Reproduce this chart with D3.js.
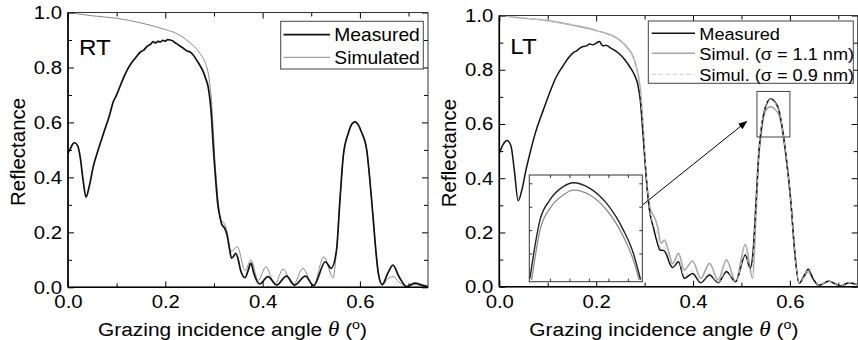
<!DOCTYPE html>
<html lang="en">
<head>
<meta charset="UTF-8">
<title>Reflectance RT / LT</title>
<script src="https://cdn.jsdelivr.net/npm/d3@7"></script>
<style>
  body { margin: 0; background: #fff; }
  svg { display: block; }
</style>
</head>
<body>
<svg width="858" height="340"></svg>
<script>
// ---- data ----
// RT panel, measured
var angleRT = [0.000,0.005,0.010,0.014,0.020,0.025,0.031,0.037,0.044,0.052,0.062,0.073,0.086,0.093,0.100,0.110,0.120,0.130,0.141,0.150,
  0.155,0.162,0.170,0.175,0.180,0.185,0.190,0.195,0.200,0.205,0.210,0.215,0.220,0.225,0.230,0.237,0.245,0.250,0.257,0.265,
  0.272,0.278,0.283,0.288,0.292,0.295,0.298,0.300,0.304,0.308,0.312,0.316,0.322,0.327,0.332,0.336,0.340,0.345,0.350,0.355,
  0.364,0.370,0.376,0.382,0.394,0.411,0.429,0.449,0.466,0.488,0.505,0.529,0.541,0.552,0.559,0.566,0.576,0.584,0.590,0.597,
  0.603,0.614,0.620,0.627,0.633,0.638,0.646,0.657,0.668,0.680,0.696,0.713,0.728,0.740];
var measuredRT = [0.488,0.505,0.522,0.526,0.515,0.475,0.390,0.328,0.370,0.440,0.500,0.560,0.630,0.675,0.700,0.745,0.785,0.815,0.840,0.858,
  0.862,0.876,0.885,0.894,0.889,0.895,0.893,0.899,0.896,0.901,0.900,0.897,0.890,0.885,0.878,0.870,0.860,0.857,0.846,0.825,
  0.805,0.785,0.760,0.730,0.680,0.620,0.530,0.475,0.380,0.300,0.260,0.230,0.215,0.190,0.140,0.106,0.112,0.124,0.100,0.060,
  0.035,0.060,0.088,0.050,0.012,0.039,0.008,0.041,0.008,0.041,0.006,0.093,0.069,0.136,0.318,0.480,0.560,0.595,0.602,0.590,
  0.566,0.500,0.400,0.257,0.130,0.050,0.010,0.050,0.081,0.040,0.003,0.015,0.008,0.002];
// RT panel, simulated
var angleRTSim = [0.000,0.020,0.050,0.100,0.150,0.200,0.225,0.244,0.260,0.271,0.280,0.285,0.290,0.292,0.295,0.297,0.300,0.302,0.306,0.310,
  0.314,0.320,0.326,0.335,0.348,0.364,0.376,0.391,0.407,0.425,0.442,0.463,0.483,0.504,0.526,0.545,0.552,0.559,0.566,0.576,
  0.584,0.590,0.597,0.603,0.614,0.620,0.627,0.633,0.638,0.646,0.657,0.668,0.680,0.696,0.713,0.728,0.740];
var simulatedRT = [1.000,0.995,0.988,0.979,0.962,0.938,0.922,0.900,0.875,0.852,0.825,0.803,0.760,0.730,0.680,0.620,0.530,0.463,0.370,0.290,
  0.245,0.236,0.210,0.130,0.148,0.060,0.100,0.025,0.075,0.010,0.066,0.008,0.069,0.005,0.111,0.035,0.136,0.318,0.480,0.560,
  0.595,0.602,0.590,0.566,0.500,0.400,0.257,0.130,0.050,0.008,0.030,0.039,0.020,0.003,0.010,0.005,0.001];

// LT panel, measured
var angleLT = [0.000,0.008,0.016,0.024,0.031,0.039,0.047,0.055,0.063,0.075,0.091,0.105,0.118,0.130,0.145,0.155,0.160,0.165,0.173,0.180,
  0.186,0.193,0.200,0.207,0.211,0.214,0.220,0.230,0.242,0.250,0.260,0.269,0.278,0.286,0.291,0.296,0.303,0.310,0.318,0.325,
  0.332,0.340,0.346,0.352,0.358,0.370,0.382,0.399,0.416,0.434,0.452,0.469,0.488,0.508,0.518,0.524,0.530,0.536,0.541,0.547,
  0.553,0.560,0.568,0.578,0.584,0.591,0.602,0.610,0.619,0.629,0.638,0.648,0.660,0.680,0.705,0.722,0.738];
var measuredLT = [0.492,0.525,0.539,0.520,0.430,0.317,0.360,0.430,0.490,0.570,0.652,0.720,0.775,0.810,0.849,0.866,0.870,0.878,0.886,0.888,
  0.895,0.892,0.898,0.904,0.893,0.888,0.890,0.880,0.867,0.855,0.835,0.812,0.785,0.745,0.690,0.580,0.410,0.283,0.220,0.170,
  0.135,0.133,0.115,0.085,0.071,0.092,0.031,0.049,0.015,0.043,0.015,0.055,0.018,0.117,0.068,0.130,0.310,0.498,0.585,0.646,
  0.678,0.693,0.684,0.646,0.590,0.498,0.314,0.129,0.012,0.040,0.064,0.030,0.005,0.020,0.003,0.015,0.008];
// LT panel, simulation sigma = 1.1 nm
var angleLTSim11 = [0.000,0.050,0.097,0.150,0.200,0.248,0.265,0.276,0.283,0.290,0.294,0.297,0.300,0.303,0.308,0.314,0.320,0.327,0.334,0.341,
  0.348,0.358,0.370,0.382,0.399,0.416,0.434,0.452,0.469,0.488,0.508,0.523,0.530,0.536,0.541,0.547,0.553,0.560,0.568,0.578,
  0.584,0.591,0.602,0.610,0.619,0.629,0.638,0.648,0.660,0.680,0.705,0.722,0.738];
var simul11LT = [1.000,0.990,0.982,0.965,0.945,0.910,0.880,0.850,0.810,0.745,0.670,0.590,0.500,0.415,0.320,0.275,0.258,0.220,0.160,0.172,
  0.140,0.085,0.123,0.062,0.095,0.031,0.086,0.025,0.099,0.018,0.156,0.031,0.260,0.480,0.570,0.635,0.657,0.664,0.656,0.630,
  0.580,0.490,0.310,0.125,0.012,0.035,0.055,0.026,0.005,0.021,0.003,0.015,0.008];
// LT panel, simulation sigma = 0.9 nm
var angleLTSim09 = [0.000,0.100,0.200,0.250,0.276,0.290,0.297,0.303,0.310,0.318,0.327,0.334,0.341,0.348,0.358,0.370,0.382,0.399,0.416,0.434,
  0.452,0.469,0.488,0.508,0.520,0.530,0.536,0.547,0.560,0.578,0.591,0.602,0.610,0.619,0.638,0.660,0.680,0.705,0.722,0.738];
var simul09LT = [1.000,0.980,0.945,0.905,0.850,0.730,0.590,0.420,0.290,0.230,0.192,0.140,0.145,0.120,0.075,0.100,0.040,0.060,0.018,0.050,
  0.016,0.062,0.016,0.125,0.050,0.290,0.495,0.645,0.692,0.645,0.497,0.313,0.128,0.012,0.062,0.005,0.020,0.003,0.015,0.008];

// zoomed inset of the LT peak
var insetAngle = [0.5397,0.5449,0.5500,0.5568,0.5620,0.5705,0.5791,0.5877,0.5928,0.5965];
var insetMeasured = [0.5986,0.6488,0.6658,0.6771,0.6805,0.6757,0.6628,0.6400,0.6202,0.5977];
var insetAngleSim = [0.5406,0.5449,0.5500,0.5568,0.5620,0.5705,0.5791,0.5877,0.5928,0.5958];
var insetSimul = [0.5974,0.6400,0.6586,0.6700,0.6742,0.6700,0.6572,0.6344,0.6144,0.5974];

// ticks and labels
var xMajor = [0, 0.2, 0.4, 0.6];
var xMinor = [0.1, 0.3, 0.5, 0.7];
var yMajor = [0, 0.2, 0.4, 0.6, 0.8, 1.0];
var yMinor = [0.1, 0.3, 0.5, 0.7, 0.9];
var legendRT = ["Measured", "Simulated"];
var legendLT = ["Measured", "Simul. (\u03c3 = 1.1 nm)", "Simul. (\u03c3 = 0.9 nm)"];

var svg = d3.select("svg");
var FONT = "'Liberation Sans', Arial, Helvetica, sans-serif";
var SX = 1.1; // the original figure is a bit wider than tall
svg.attr("font-family", FONT);

svg.append("defs").append("marker")
    .attr("id", "arrow").attr("markerUnits", "userSpaceOnUse")
    .attr("markerWidth", 9).attr("markerHeight", 7)
    .attr("refX", 8).attr("refY", 3.5).attr("orient", "auto")
  .append("path").attr("d", "M0,0L9,3.5L0,7Z").attr("fill", "#000");

function stretchText(g, x, y, size, str) {
    return g.append("text")
        .attr("transform", "translate(" + x + "," + y + ") scale(" + SX + ",1)")
        .attr("font-size", size).attr("fill", "#000").text(str);
}

function drawPanel(p) {
    var g = svg.append("g");
    var x = d3.scaleLinear().domain([0, 0.74]).range(p.xr);
    var y = d3.scaleLinear().domain([0, 1]).range(p.yr);
    var x0 = p.xr[0], x1 = p.xr[1], y0 = p.yr[0], y1 = p.yr[1];

    g.append("clipPath").attr("id", "clip" + p.id).append("rect")
        .attr("x", x0).attr("y", y1 - 1).attr("width", x1 - x0).attr("height", y0 - y1 + 1);

    // curves
    var line = d3.line().curve(d3.curveMonotoneX)
        .x(function (d) { return x(d[0]); })
        .y(function (d) { return y(d[1]); });
    var lines = g.append("g").attr("clip-path", "url(#clip" + p.id + ")");
    p.series.forEach(function (s) {
        lines.append("path")
            .attr("d", line(d3.zip(s.x, s.y)))
            .attr("fill", "none")
            .attr("stroke", s.color)
            .attr("stroke-width", s.w)
            .attr("stroke-dasharray", s.dash || null)
            .attr("stroke-linejoin", "round");
    });

    // inward ticks on all four sides
    function axis(gen, tx, ty, vals, size, labels) {
        var a = g.append("g").attr("transform", "translate(" + tx + "," + ty + ")")
            .call(gen.tickValues(vals).tickSize(-size).tickSizeOuter(0)
                .tickPadding(labels ? 8 : 0)
                .tickFormat(labels ? d3.format(".1f") : ""));
        a.select(".domain").remove();
        a.attr("font-size", 18.5).attr("font-family", FONT);
        a.selectAll("line").attr("stroke", "#000");
        a.selectAll("text").attr("fill", "#000");
        return a;
    }
    var bx = axis(d3.axisBottom(x), 0, y0, xMajor, 6, true);
    bx.selectAll("text").attr("transform", "scale(" + SX + ",1)");
    axis(d3.axisBottom(x), 0, y0, xMinor, 4, false);
    axis(d3.axisTop(x), 0, y1, xMajor, 6, false);
    axis(d3.axisTop(x), 0, y1, xMinor, 4, false);
    var ly = axis(d3.axisLeft(y), x0, 0, yMajor, 6, true);
    ly.selectAll("text").attr("x", -5.5).attr("transform", "scale(" + SX + ",1)");
    axis(d3.axisLeft(y), x0, 0, yMinor, 4, false);
    axis(d3.axisRight(y), x1, 0, yMajor, 6, false);
    axis(d3.axisRight(y), x1, 0, yMinor, 4, false);

    // frame
    g.append("rect").attr("x", x0).attr("y", y1).attr("width", x1 - x0).attr("height", y0 - y1)
        .attr("fill", "none").attr("stroke", "#333").attr("stroke-width", 1);
    g.append("line").attr("x1", x0).attr("x2", x1).attr("y1", y0).attr("y2", y0)
        .attr("stroke", "#000").attr("stroke-width", 1.6);
    g.append("line").attr("x1", x0).attr("x2", x0).attr("y1", y1).attr("y2", y0)
        .attr("stroke", "#000").attr("stroke-width", 1.6);

    // axis titles
    var t = g.append("text")
        .attr("transform", "translate(" + (x0 + 30) + ",336) scale(" + SX + ",1)")
        .attr("font-size", 19);
    t.append("tspan").text("Grazing incidence angle ");
    t.append("tspan").attr("font-family", "'Liberation Serif', 'Times New Roman', serif")
        .attr("font-style", "italic").attr("font-size", 21).text("\u03b8");
    t.append("tspan").text(" (");
    t.append("tspan").attr("font-size", 13).attr("dy", -7).text("o");
    t.append("tspan").attr("dy", 7).text(")");

    g.append("text")
        .attr("transform", "translate(" + (x0 - 43) + "," + ((y0 + y1) / 2 + 2) + ") rotate(-90)")
        .attr("text-anchor", "middle").attr("font-size", 20.5).text("Reflectance");

    // panel label
    stretchText(g, x0 + 11, y1 + p.labelDy, 22, p.id);

    // legend
    var L = p.legend;
    g.append("rect").attr("x", L.x).attr("y", L.y).attr("width", L.w).attr("height", L.h)
        .attr("fill", "#fff").attr("stroke", "#444").attr("stroke-width", 1);
    L.labels.forEach(function (lab, i) {
        var s = p.series[L.order[i]];
        g.append("line").attr("x1", L.lx0).attr("x2", L.lx1).attr("y1", L.rows[i]).attr("y2", L.rows[i])
            .attr("stroke", s.color).attr("stroke-width", s.w).attr("stroke-dasharray", s.dash || null);
        stretchText(g, L.tx, L.rows[i] + 6.5, L.font, lab);
    });
    return {g: g, x: x, y: y};
}

// RT panel
drawPanel({
    id: "RT", xr: [68, 428], yr: [287.3, 12.5], labelDy: 42,
    series: [
        {x: angleRTSim, y: simulatedRT, color: "#8a8a8a", w: 1},
        {x: angleRT, y: measuredRT, color: "#111", w: 1.7}
    ],
    legend: {x: 280.7, y: 21.3, w: 142.6, h: 47.7, lx0: 283.5, lx1: 330, tx: 334.3,
        rows: [34.7, 57.3], font: 17.5, labels: legendRT, order: [1, 0]}
});

// LT panel
var lt = drawPanel({
    id: "LT", xr: [499.3, 857.7], yr: [286.7, 15.5], labelDy: 38,
    series: [
        {x: angleLTSim11, y: simul11LT, color: "#a8a8a8", w: 1.6},
        {x: angleLT, y: measuredLT, color: "#111", w: 1.5},
        {x: angleLTSim09, y: simul09LT, color: "#c8c8c8", w: 1, dash: "4,3"}
    ],
    legend: {x: 648.3, y: 21, w: 205, h: 62.3, lx0: 651.7, lx1: 695, tx: 699.3,
        rows: [33.3, 53.2, 74.3], font: 16.5, labels: legendLT, order: [1, 0, 2]}
});

// zoom box around the LT peak and arrow to the inset
lt.g.append("rect")
    .attr("x", lt.x(0.532)).attr("y", lt.y(0.72))
    .attr("width", lt.x(0.600) - lt.x(0.532)).attr("height", lt.y(0.552) - lt.y(0.72))
    .attr("fill", "none").attr("stroke", "#444").attr("stroke-width", 1);
lt.g.append("line")
    .attr("x1", lt.x(0.2765)).attr("y1", lt.y(0.274))
    .attr("x2", lt.x(0.5105)).attr("y2", lt.y(0.609))
    .attr("stroke", "#000").attr("stroke-width", 1).attr("marker-end", "url(#arrow)");

// inset
var ix = d3.scaleLinear().domain([0.5394, 0.5974]).range([529.3, 642.3]);
var iy = d3.scaleLinear().domain([0.5959, 0.6871]).range([281.7, 175]);
var ig = svg.append("g");
ig.append("rect").attr("x", 529.3).attr("y", 175).attr("width", 113).attr("height", 106.7)
    .attr("fill", "#fff");
ig.append("clipPath").attr("id", "clipInset").append("rect")
    .attr("x", 529.3).attr("y", 175).attr("width", 113).attr("height", 106.7);
var iline = d3.line().curve(d3.curveMonotoneX)
    .x(function (d) { return ix(d[0]); })
    .y(function (d) { return iy(d[1]); });
var icurves = ig.append("g").attr("clip-path", "url(#clipInset)");
icurves.append("path").attr("d", iline(d3.zip(insetAngleSim, insetSimul)))
    .attr("fill", "none").attr("stroke", "#8c8c8c").attr("stroke-width", 1.3);
icurves.append("path").attr("d", iline(d3.zip(insetAngle, insetMeasured)))
    .attr("fill", "none").attr("stroke", "#222").attr("stroke-width", 1.4);
[[d3.axisBottom(ix), 0, 281.7, [0.55, 0.56, 0.57, 0.58, 0.59]],
 [d3.axisTop(ix), 0, 175, [0.55, 0.56, 0.57, 0.58, 0.59]],
 [d3.axisLeft(iy), 529.3, 0, [0.62, 0.64, 0.66, 0.68]],
 [d3.axisRight(iy), 642.3, 0, [0.62, 0.64, 0.66, 0.68]]].forEach(function (a) {
    var ag = ig.append("g").attr("transform", "translate(" + a[1] + "," + a[2] + ")")
        .call(a[0].tickValues(a[3]).tickSize(-3).tickSizeOuter(0).tickFormat(""));
    ag.select(".domain").remove();
    ag.selectAll("line").attr("stroke", "#333");
});
ig.append("rect").attr("x", 529.3).attr("y", 175).attr("width", 113).attr("height", 106.7)
    .attr("fill", "none").attr("stroke", "#333").attr("stroke-width", 1);
</script>
</body>
</html>
